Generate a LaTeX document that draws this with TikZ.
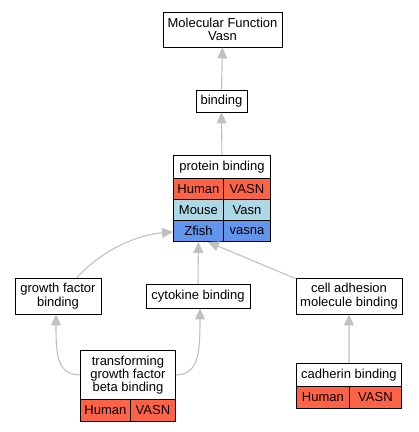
\documentclass[tikz,border=0pt]{standalone}
\usepackage{fontspec}
\setmainfont{Liberation Sans}
\usetikzlibrary{arrows.meta,calc}
\definecolor{hum}{HTML}{FF6347}
\definecolor{mou}{HTML}{ADD8E6}
\definecolor{zfi}{HTML}{6495ED}
\definecolor{edg}{HTML}{C0C0C0}
\begin{document}
\begin{tikzpicture}[x=1pt,y=-1pt,
  box/.style={draw=black,line width=0.9pt,fill=white,inner sep=0pt,align=center,
    font=\fontsize{13}{13.3}\selectfont},
  cell/.style={box,anchor=north west},
  edge/.style={draw=edg,line width=1.1pt,-{Triangle[length=11pt,width=10pt]}}]
\useasboundingbox (0,0) rectangle (419,432);
% Molecular Function
\node[box,minimum width=119pt,minimum height=35pt] (mf) at (222.5,29.5) {Molecular Function\\Vasn};
\node[box,minimum width=51pt,minimum height=22pt] (bind) at (221.5,101) {binding};
% protein binding table
\node[cell,minimum width=97pt,minimum height=23pt] (pb) at (173,155) {protein binding};
\node[cell,fill=hum,minimum width=50pt,minimum height=21pt] (pbh) at (173,178) {Human};
\node[cell,fill=hum,minimum width=47pt,minimum height=21pt] (pbhg) at (223,178) {VASN};
\node[cell,fill=mou,minimum width=50pt,minimum height=21pt] (pbm) at (173,199) {Mouse};
\node[cell,fill=mou,minimum width=47pt,minimum height=21pt] (pbmg) at (223,199) {Vasn};
\node[cell,fill=zfi,minimum width=50pt,minimum height=21pt] (pbz) at (173,220) {Zfish};
\node[cell,fill=zfi,minimum width=47pt,minimum height=21pt] (pbzg) at (223,220) {vasna};
% middle row
\node[box,minimum width=86pt,minimum height=36pt] (gf) at (58,296) {growth factor\\binding};
\node[box,minimum width=104pt,minimum height=24pt] (cy) at (198,296) {cytokine binding};
\node[box,minimum width=106pt,minimum height=36pt] (ca) at (349,296) {cell adhesion\\molecule binding};
% tgf beta table
\node[cell,minimum width=95pt,minimum height=49pt] (tgf) at (80,350) {transforming\\growth factor\\beta binding};
\node[cell,fill=hum,minimum width=50pt,minimum height=22pt] (tgfh) at (80,399) {Human};
\node[cell,fill=hum,minimum width=45pt,minimum height=22pt] (tgfg) at (130,399) {VASN};
% cadherin table
\node[cell,minimum width=105pt,minimum height=23pt] (cad) at (296,363) {cadherin binding};
\node[cell,fill=hum,minimum width=53pt,minimum height=22pt] (cadh) at (296,386) {Human};
\node[cell,fill=hum,minimum width=52pt,minimum height=22pt] (cadg) at (349,386) {VASN};
% edges
\draw[edge] (bind.north) -- (mf.south);
\draw[edge] (pb.north) -- (bind.south);
\draw[edge] ($(gf.north)+(19,0)$) .. controls (100,252) and (135,235) .. ($(pbz.west)+(0,1)$);
\draw[edge] (cy.north) -- (pbz.south);
\draw[edge] ($(ca.north west)+(0,1)$) -- ($(pbz.south east)+(-16,0)$);
\draw[edge] (tgf.west) .. controls (57,374.5) and (56,355) .. ($(gf.south)+(-2,0)$);
\draw[edge] (tgf.east) .. controls (198,374.5) and (200,355) .. ($(cy.south)+(2,0)$);
\draw[edge] (cad.north) -- (ca.south);
\end{tikzpicture}
\end{document}
